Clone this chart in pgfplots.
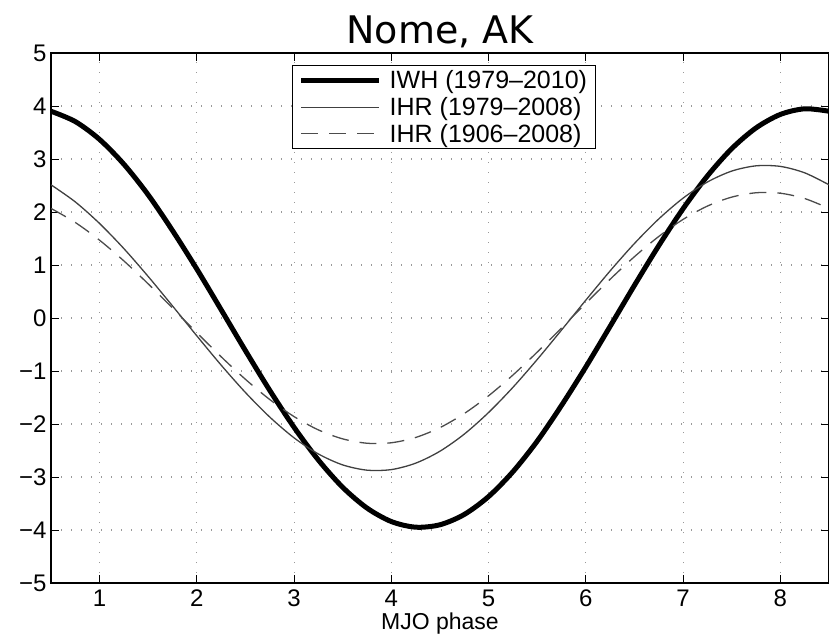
\documentclass[border=0pt]{standalone}
\usepackage{pgfplots}
\pgfplotsset{compat=1.18}
\usepackage{fontspec}
\setmainfont{Liberation Sans}
\newfontfamily\titlefont{DejaVu Sans}
\begin{document}
\begin{tikzpicture}[x=1pt,y=1pt]
\begin{axis}[
  scale only axis,
  width=778pt, height=530pt,
  xmin=0.5, xmax=8.5, ymin=-5, ymax=5,
  xtick={1,...,8}, ytick={-5,...,5},
  tick align=inside,
  major tick length=8pt,
  tick style={black, line width=0.8pt},
  axis line style={black, line width=1.3pt},
  xtick pos=both, ytick pos=both,
  grid=major,
  major grid style={gray!80, line width=1.2pt, dash pattern=on 1.2pt off 8.8pt},
  /pgf/number format/assume math mode=true,
  ticklabel style={font=\fontsize{24}{27}\selectfont},
  yticklabel={\ifdim\tick pt<0pt\relax{\char"2212}\pgfmathparse{-\tick}\pgfmathprintnumber{\pgfmathresult}\else\pgfmathprintnumber{\tick}\fi},
  xticklabel style={yshift=-3pt},
  yticklabel style={xshift=-1pt},
  xlabel={MJO phase},
  xlabel style={font=\fontsize{23}{26}\selectfont, yshift=1pt},
  title={\titlefont Nome, AK},
  title style={font=\fontsize{38}{40}\selectfont, yshift=-4pt},
  legend cell align=left,
  legend style={at={(rel axis cs:0.31,0.977)}, anchor=north west,
    font=\fontsize{25}{28}\selectfont, draw=black, line width=1.1pt,
    inner xsep=6pt, inner ysep=3pt, row sep=3pt,
    /tikz/every odd column/.append style={column sep=6pt}},
  legend image code/.code={\draw[#1] (0pt,0pt) -- (78pt,0pt);},
]
\addplot[black, line width=5pt, smooth] coordinates {
(0.5,3.901) (0.75,3.706) (1.0,3.368) (1.25,2.900) (1.5,2.322) (1.75,1.648)
(2.0,0.922) (2.25,0.155) (2.5,-0.618) (2.75,-1.367) (3.0,-2.064) (3.25,-2.681)
(3.5,-3.196) (3.75,-3.587) (4.0,-3.841) (4.25,-3.947) (4.5,-3.901) (4.75,-3.706)
(5.0,-3.368) (5.25,-2.900) (5.5,-2.322) (5.75,-1.648) (6.0,-0.922) (6.25,-0.155)
(6.5,0.618) (6.75,1.367) (7.0,2.064) (7.25,2.681) (7.5,3.196) (7.75,3.587)
(8.0,3.841) (8.25,3.947) (8.5,3.901)};
\addlegendentry{IWH (1979--2010)}
\addplot[black!75, line width=1.3pt, smooth] coordinates {
(0.5,2.513) (0.75,2.190) (1.0,1.782) (1.25,1.308) (1.5,0.782) (1.75,0.226)
(2.0,-0.338) (2.25,-0.890) (2.5,-1.407) (2.75,-1.870) (3.0,-2.262) (3.25,-2.566)
(3.5,-2.772) (3.75,-2.871) (4.0,-2.860) (4.25,-2.739) (4.5,-2.513) (4.75,-2.190)
(5.0,-1.782) (5.25,-1.308) (5.5,-0.782) (5.75,-0.226) (6.0,0.338) (6.25,0.890)
(6.5,1.407) (6.75,1.870) (7.0,2.262) (7.25,2.566) (7.5,2.772) (7.75,2.871)
(8.0,2.860) (8.25,2.739) (8.5,2.513)};
\addlegendentry{IHR (1979--2008)}
\addplot[black!70, line width=1.3pt, dash pattern=on 17pt off 11pt, smooth] coordinates {
(0.5,2.068) (0.75,1.802) (1.0,1.467) (1.25,1.076) (1.5,0.643) (1.75,0.186)
(2.0,-0.278) (2.25,-0.732) (2.5,-1.158) (2.75,-1.539) (3.0,-1.861) (3.25,-2.112)
(3.5,-2.281) (3.75,-2.363) (4.0,-2.354) (4.25,-2.254) (4.5,-2.068) (4.75,-1.802)
(5.0,-1.467) (5.25,-1.076) (5.5,-0.643) (5.75,-0.186) (6.0,0.278) (6.25,0.732)
(6.5,1.158) (6.75,1.539) (7.0,1.861) (7.25,2.112) (7.5,2.281) (7.75,2.363)
(8.0,2.354) (8.25,2.254) (8.5,2.068)};
\addlegendentry{IHR (1906--2008)}
\end{axis}
\pgfresetboundingbox
\path[use as bounding box] (current axis.south west) ++(-51pt,-58pt) rectangle ([yshift=53pt]current axis.north east);
\end{tikzpicture}
\end{document}
